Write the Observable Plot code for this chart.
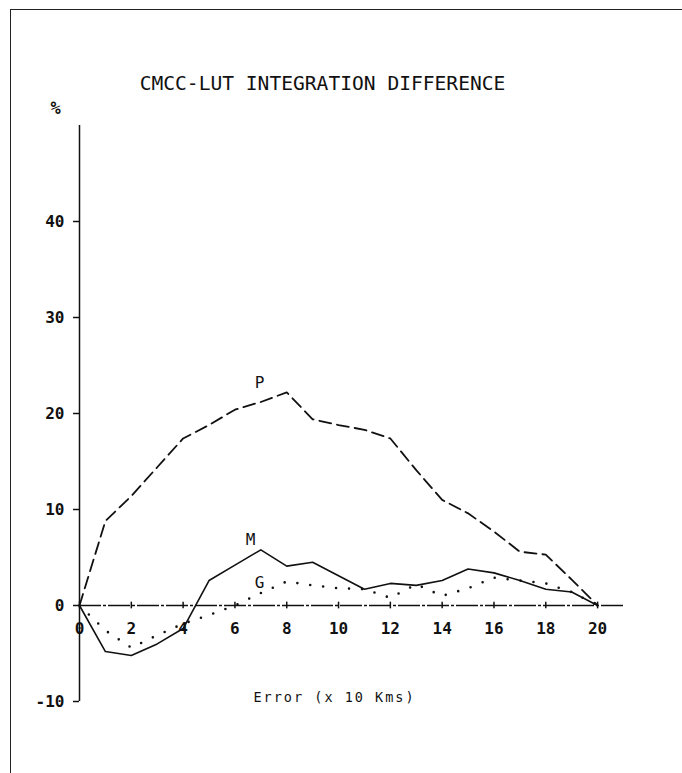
<!DOCTYPE html>
<html><head><meta charset="utf-8">
<script src="https://cdn.jsdelivr.net/npm/d3@7"></script>
<script src="https://cdn.jsdelivr.net/npm/@observablehq/plot@0.6"></script>
<style>
body{margin:0;background:#fff;}
#wrap{position:relative;width:682px;height:773px;overflow:hidden;background:#fff;}
#frame{position:absolute;left:10px;top:9px;width:700px;height:800px;border-left:1.5px solid #222;border-top:1.5px solid #222;}
#chart{position:absolute;left:0;top:0;}
</style></head><body>
<div id="wrap"><div id="frame"></div><div id="chart"></div></div>
<script>
const errorX = [0,1,2,3,4,5,6,7,8,9,10,11,12,13,14,15,16,17,18,19,20];
const seriesP = [0, 8.8, 11.4, 14.4, 17.4, 18.8, 20.4, 21.2, 22.2, 19.4, 18.8, 18.3, 17.4, 14.1, 11.0, 9.6, 7.7, 5.6, 5.3, 2.7, 0];
const seriesM = [0, -4.8, -5.2, -4.0, -2.4, 2.6, 4.2, 5.8, 4.1, 4.5, 3.1, 1.7, 2.3, 2.1, 2.6, 3.8, 3.4, 2.6, 1.7, 1.4, 0];
const seriesG = [0, -2.6, -4.4, -3.1, -1.9, -1.0, 0.0, 1.3, 2.5, 2.1, 1.8, 1.7, 0.8, 2.2, 1.0, 1.8, 2.9, 2.6, 2.3, 1.4, 0];
const xTicks = [0,2,4,6,8,10,12,14,16,18,20];
const yTicks = [-10,0,10,20,30,40];
const seriesLabels = [
  {name: "P", x: 6.95, y: 23.2},
  {name: "M", x: 6.6, y: 6.8},
  {name: "G", x: 6.95, y: 2.4}
];
const title = "CMCC-LUT INTEGRATION DIFFERENCE";
const xLabel = "Error (x 10 Kms)";
const yLabel = "%";

const mono = "'DejaVu Sans Mono', 'Liberation Mono', monospace";
const ink = "#111";
const rows = vals => errorX.map((x, i) => ({x, y: vals[i]}));

const plot = Plot.plot({
  width: 682, height: 773,
  marginLeft: 79, marginRight: 59, marginTop: 125, marginBottom: 72,
  x: {domain: [0, 21], axis: null},
  y: {domain: [-10, 50]},
  style: {fontFamily: mono, color: ink, background: "transparent", overflow: "visible"},
  marks: [
    Plot.axisY(yTicks, {anchor: "left", tickSize: 6, tickPadding: 9, fontSize: 16, fontWeight: "bold", label: null, tickFormat: d => String(d), strokeWidth: 1.5}),
    Plot.ruleX([0], {y1: -10, y2: 50, stroke: ink, strokeWidth: 1.5}),
    Plot.ruleY([0], {x1: 0, x2: 21, stroke: ink, strokeWidth: 1.5, strokeDasharray: "22,2,3,2"}),
    Plot.ruleX(xTicks, {x: d => d, y1: -0.35, y2: 0.35, stroke: ink, strokeWidth: 1.5}),
    Plot.text(xTicks, {x: d => d, y: () => 0, text: d => String(d), dy: 23, fontSize: 16, fontWeight: "bold"}),
    Plot.line(rows(seriesP), {x: "x", y: "y", stroke: ink, strokeWidth: 1.8, strokeDasharray: "12,6"}),
    Plot.line(rows(seriesM), {x: "x", y: "y", stroke: ink, strokeWidth: 1.6}),
    Plot.line(rows(seriesG), {x: "x", y: "y", stroke: ink, strokeWidth: 2.6, strokeDasharray: "0,13", strokeLinecap: "round"}),
    Plot.text(seriesLabels, {x: "x", y: "y", text: "name", fontSize: 16}),
    Plot.text([title], {text: d => d, frameAnchor: "top", dx: -29, dy: -42, fontSize: 19.6, lineAnchor: "middle"}),
    Plot.text([yLabel], {text: d => d, frameAnchor: "top-left", dx: -24, dy: -17, fontSize: 17, fontWeight: "bold", textAnchor: "middle", lineAnchor: "middle"}),
    Plot.text([xLabel], {text: d => d, frameAnchor: "bottom", dx: -17, dy: -4, fontSize: 13.5, lineAnchor: "middle"})
  ]
});
d3.select(plot).selectAll("text").filter(function() { return this.textContent === xLabel; }).attr("letter-spacing", 2);
document.getElementById("chart").appendChild(plot);
</script>
</body></html>
